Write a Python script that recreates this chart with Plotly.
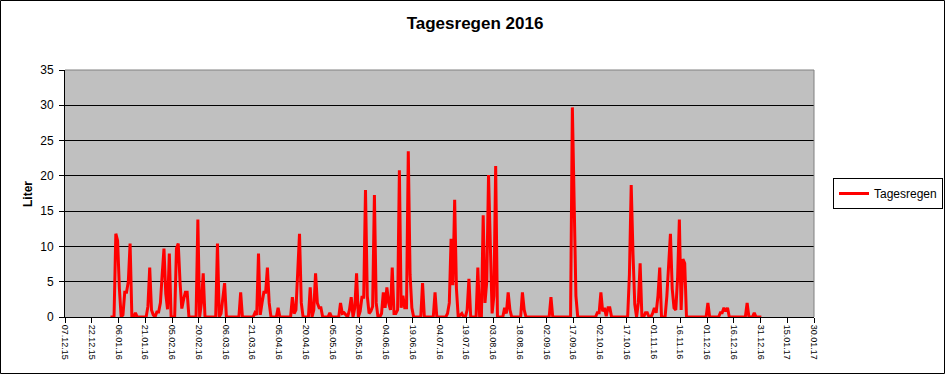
import pandas as pd
import plotly.graph_objects as go

chart_title = "Tagesregen 2016"
series_name = "Tagesregen"
y_title = "Liter"

# daily rain (Liter) 2016, one value per day
jan = [0, 0, 0, 11.8, 10.8, 4.0, 0, 0.3, 3.5, 3.5, 5.0, 10.4, 0, 0, 0.6, 0, 0, 0, 0, 0,
       0, 1.5, 7.0, 1.0, 0.3, 0, 0.7, 0.7, 2.0, 6.0, 9.7]
feb = [3.3, 1.1, 9.0, 0, 0, 0, 9.7, 10.4, 5.0, 1.2, 2.5, 3.5, 3.5, 0, 0, 0, 0, 0, 13.8, 0,
       2.0, 6.2, 0, 0, 0, 0, 0, 0, 0]
mar = [10.4, 0, 0.5, 2.5, 4.8, 0, 0, 0, 0, 0, 0, 0, 0, 3.5, 0, 0, 0, 0, 0, 0,
       0, 0.6, 0.3, 9.0, 0.3, 2.0, 3.5, 3.5, 7.0, 2.0, 0]
apr = [0, 0, 0, 1.3, 0, 0, 0, 0, 0, 0, 0, 2.8, 0.5, 1.0, 6.0, 11.8, 2.0, 0, 0, 0,
       0, 4.2, 0, 1.0, 6.2, 2.0, 1.3, 1.3, 0, 0]
may = [0, 0, 0.6, 0, 0, 0, 0, 0, 2.0, 0.5, 0.6, 0.2, 0, 1.0, 2.8, 0, 1.3, 6.2, 0, 0.8,
       2.8, 2.8, 18.0, 3.0, 0.5, 0.8, 1.5, 17.3, 2.0, 0, 0]
jun = [0.5, 3.5, 1.3, 4.2, 2.0, 1.0, 7.0, 0.5, 0.5, 1.0, 20.8, 1.3, 3.0, 1.3, 1.3, 23.5, 6.0, 1.3, 0, 0,
       0, 0, 0, 4.8, 0, 0, 0, 0, 0, 0]
jul = [3.5, 0, 0, 0, 0, 0, 0, 0.5, 2.0, 11.1, 4.5, 16.6, 4.0, 0, 0.2, 0.5, 0, 0, 1.0, 5.4,
       0, 0, 0, 0, 7.0, 0, 0, 14.4, 2.0, 5.0, 20.1]
aug = [9.7, 0.5, 3.0, 21.4, 0, 0, 0, 0, 1.3, 0.5, 3.5, 1.0, 0, 0, 0, 0, 0, 0, 3.5, 1.0,
       0, 0, 0, 0, 0, 0, 0, 0, 0, 0, 0]
sep = [0, 0, 0, 2.8, 0, 0, 0, 0, 0, 0, 0, 0, 0, 0, 0, 29.7, 14.0, 3.0, 0, 0,
       0, 0, 0, 0, 0, 0, 0, 0, 0, 0.6]
oct_ = [0.6, 3.5, 0.8, 1.3, 0.1, 1.3, 1.3, 0, 0, 0, 0, 0, 0, 0, 0, 0, 0, 6.0, 18.7, 9.0,
        1.8, 0, 2.0, 7.6, 0, 0, 0.6, 0.6, 0, 0, 0.5]
nov = [1.3, 0.6, 3.0, 7.0, 0, 0, 0, 3.0, 7.0, 11.8, 4.0, 1.3, 1.0, 5.5, 13.8, 1.0, 8.2, 7.6, 0, 0,
       0, 0, 0, 0, 0, 0, 0, 0, 0, 0]
dec = [2.0, 0, 0, 0, 0, 0, 0, 0.6, 0.6, 1.3, 0.8, 1.3, 0, 0, 0, 0, 0, 0, 0, 0,
       0, 0, 2.0, 0, 0, 0, 0.6, 0, 0, 0, 0]

tick_labels = ["07.12.15", "22.12.15", "06.01.16", "21.01.16", "05.02.16", "20.02.16",
               "06.03.16", "21.03.16", "05.04.16", "20.04.16", "05.05.16", "20.05.16",
               "04.06.16", "19.06.16", "04.07.16", "19.07.16", "03.08.16", "18.08.16",
               "02.09.16", "17.09.16", "02.10.16", "17.10.16", "01.11.16", "16.11.16",
               "01.12.16", "16.12.16", "31.12.16", "15.01.17", "30.01.17"]
y_ticks = [0, 5, 10, 15, 20, 25, 30, 35]

values = jan + feb + mar + apr + may + jun + jul + aug + sep + oct_ + nov + dec
# Excel plots each day in the middle of its slot
dates = pd.date_range("2016-01-01", periods=len(values), freq="D") + pd.Timedelta(hours=12)
tick_pos = pd.to_datetime(tick_labels, format="%d.%m.%y")

FONT = "Arial, 'Liberation Sans', sans-serif"
W, H = 946, 375
L, R, T, B = 65, 132, 70, 58
PW, PH = W - L - R, H - T - B


def px_x(p):
    return (p - L) / PW


def px_y(p):
    return (H - B - p) / PH


fig = go.Figure()
fig.add_trace(go.Scatter(
    x=dates, y=values, mode="lines", name=series_name,
    line=dict(color="#FF0000", width=3),
))

fig.update_layout(
    width=W, height=H, autosize=False,
    margin=dict(l=L, r=R, t=T, b=B, pad=0, autoexpand=False),
    paper_bgcolor="white", plot_bgcolor="#C0C0C0",
    font=dict(family=FONT, color="black"),
    title=dict(text="<b>" + chart_title + "</b>", x=475 / W, xanchor="center",
               y=1 - 23 / H, yanchor="middle", font=dict(size=17, family=FONT, color="black")),
    showlegend=True,
    legend=dict(xref="container", yref="container", x=833 / W, y=1 - 178 / H,
                xanchor="left", yanchor="top",
                bgcolor="white", bordercolor="black", borderwidth=1,
                font=dict(size=12, family=FONT, color="black"),
                itemwidth=30, tracegroupgap=0),
    xaxis=dict(type="date", range=[tick_pos[0], tick_pos[-1]],
               tickmode="array", tickvals=tick_pos, ticktext=tick_labels,
               tickangle=90, tickfont=dict(size=9, family=FONT, color="black"),
               ticks="outside", ticklen=5, tickcolor="black", tickwidth=1,
               showgrid=False, zeroline=False, showline=True, linecolor="black",
               linewidth=1, layer="below traces", automargin=False),
    yaxis=dict(range=[0, 35], tickmode="array", tickvals=y_ticks,
               tickfont=dict(size=12, family=FONT, color="black"),
               ticks="outside", ticklen=5, tickcolor="black", tickwidth=1,
               showgrid=True, gridcolor="black", gridwidth=1,
               zeroline=False, showline=True, linecolor="black", linewidth=1,
               layer="below traces", ticklabelstandoff=3, automargin=False),
    annotations=[dict(text="<b>" + y_title + "</b>", xref="paper", yref="paper",
                      x=px_x(28), y=px_y(194), textangle=-90, showarrow=False,
                      xanchor="center", yanchor="middle",
                      font=dict(size=12, family=FONT, color="black"))],
    shapes=[
        # gray plot-area frame (top and right)
        dict(type="line", xref="paper", yref="paper", x0=0, x1=1, y0=1, y1=1,
             line=dict(color="#808080", width=1), layer="above"),
        dict(type="line", xref="paper", yref="paper", x0=1, x1=1, y0=0, y1=1,
             line=dict(color="#808080", width=1), layer="above"),
        # chart border
        dict(type="rect", xref="paper", yref="paper",
             x0=px_x(0.5), x1=px_x(944.5), y0=px_y(373.5), y1=px_y(0.5),
             line=dict(color="black", width=1), layer="above"),
    ],
)

fig.write_html("out.html", config={"displayModeBar": False},
               post_script="document.body.style.margin='0';document.body.style.overflow='hidden';")
